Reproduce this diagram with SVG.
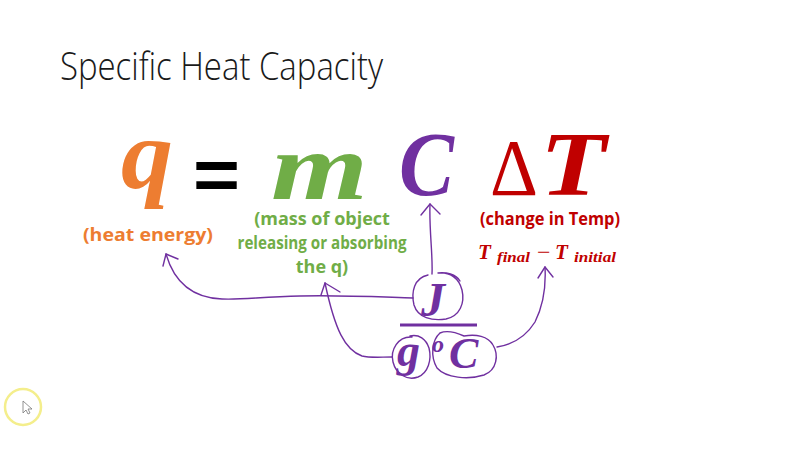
<svg xmlns="http://www.w3.org/2000/svg" width="800" height="450" viewBox="0 0 800 450">
<defs>
<style>
.title{font-family:"Open Sans","Liberation Sans",sans-serif;font-weight:300;font-size:38px;fill:#1a1a1a}
.eq{font-family:"Liberation Serif","DejaVu Serif",serif;font-style:italic;font-weight:bold}
.lbl{font-family:"Open Sans","Liberation Sans",sans-serif;font-weight:bold;font-size:18px}
.orange{fill:#ED7D31}
.green{fill:#70AD47}
.purple{fill:#7030A0}
.red{fill:#C00000}
.ink{fill:none;stroke:#7030A0;stroke-width:1.4;stroke-linecap:round;stroke-linejoin:round}
</style>
</defs>
<rect width="800" height="450" fill="#ffffff"/>
<text class="title" x="60" y="80" textLength="323" lengthAdjust="spacingAndGlyphs">Specific Heat Capacity</text>

<g id="q">
<text class="eq orange" x="121" y="188" font-size="100" textLength="52" lengthAdjust="spacingAndGlyphs">q</text>
<text class="lbl orange" x="83" y="241" textLength="130" lengthAdjust="spacingAndGlyphs">(heat energy)</text>
</g>
<g id="equals">
<text x="193" y="199" font-family="Liberation Sans, sans-serif" font-weight="bold" font-size="72" fill="#000" textLength="47" lengthAdjust="spacingAndGlyphs">=</text>
</g>
<g id="m">
<text class="eq green" x="271" y="199" font-size="96" textLength="97" lengthAdjust="spacingAndGlyphs">m</text>
<text class="lbl green" x="322" y="225" text-anchor="middle">(mass of object</text>
<text class="lbl green" x="322" y="249" text-anchor="middle" textLength="169" lengthAdjust="spacingAndGlyphs">releasing or absorbing</text>
<text class="lbl green" x="322" y="273" text-anchor="middle">the q)</text>
</g>
<g id="C">
<text class="eq purple" x="399" y="195" font-size="90" textLength="55" lengthAdjust="spacingAndGlyphs">C</text>
</g>
<g id="deltaT">
<text x="490" y="195" font-family="Liberation Serif, serif" font-size="80" class="red" textLength="48" lengthAdjust="spacingAndGlyphs">Δ</text>
<text class="eq red" x="540" y="195" font-size="90" textLength="66" lengthAdjust="spacingAndGlyphs">T</text>
<text class="lbl red" x="480" y="225" textLength="140" lengthAdjust="spacingAndGlyphs">(change in Temp)</text>
<text class="eq red" x="478" y="259" font-size="21">T</text>
<text class="eq red" x="497" y="262" font-size="15" textLength="33" lengthAdjust="spacingAndGlyphs">final</text>
<text class="red" x="537" y="260" font-family="Liberation Serif, serif" font-size="24">−</text>
<text class="eq red" x="555" y="259" font-size="21">T</text>
<text class="eq red" x="574" y="262" font-size="15" textLength="42" lengthAdjust="spacingAndGlyphs">initial</text>
</g>
<g id="unit">
<text class="eq purple" x="421" y="316" font-size="48">J</text>
<line x1="400" y1="325" x2="477" y2="325" stroke="#7030A0" stroke-width="3"/>
<text class="eq purple" x="397" y="366" font-size="46">g</text>
<text class="eq purple" x="432" y="352" font-size="24">o</text>
<text class="eq purple" x="449" y="368" font-size="44">C</text>
<path class="ink" d="M428,275 C414,278 411,292 414,305 C418,318 432,321 446,319 C460,316 465,303 462,290 C459,278 450,272 438,273 C446,272 456,274 460,281"/>
<path class="ink" d="M412,337 C398,336 390,350 393,362 C396,374 407,381 418,377 C428,373 432,360 429,348 C426,339 419,334 410,336"/>
<path class="ink" d="M440,333 C432,340 430,356 437,368 C446,378 468,380 484,375 C497,370 499,355 493,345 C488,336 476,334 464,336 C455,332 447,330 440,333"/>
</g>
<g id="connectors">
<path class="ink" d="M432,274 C433,255 429,230 430,204"/>
<path class="ink" d="M421,215 L430,204 L440,214"/>
<path class="ink" d="M413,298 C380,297 340,295 300,296 C260,297 240,300 222,299 C195,298 175,285 166,254"/>
<path class="ink" d="M166,254 L163,266 M166,254 L178,259"/>
<path class="ink" d="M392,357 C380,357 370,358 362,356 C345,350 335,330 325,283"/>
<path class="ink" d="M325,283 L321,295 M325,283 L340,292"/>
<path class="ink" d="M497,347 C510,345 525,338 535,322 C543,306 546,285 545,267"/>
<path class="ink" d="M545,267 L538,278 M545,267 L553,277"/>
</g>
<g id="cursor">
<circle cx="23" cy="407" r="18" fill="none" stroke="#F4EE8C" stroke-width="2.5"/>
<path d="M23,401 L23,413 L26,410 L28,414 L30,413 L28,409 L32,409 Z" fill="#fff" stroke="#777" stroke-width="0.8"/>
</g>
</svg>
